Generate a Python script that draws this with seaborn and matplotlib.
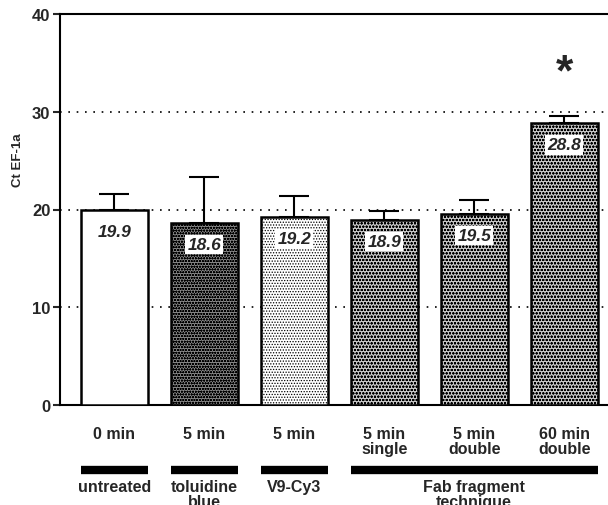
import matplotlib
matplotlib.use("Agg")
import matplotlib.pyplot as plt
import matplotlib.transforms as mtransforms
import seaborn as sns
import pandas as pd

# Data
conditions = ["0 min", "5 min", "5 min", "5 min\nsingle", "5 min\ndouble", "60 min\ndouble"]
ct_values = [19.9, 18.6, 19.2, 18.9, 19.5, 28.8]
ct_errors = [1.7, 4.7, 2.2, 0.9, 1.5, 0.8]
groups = ["untreated", "toluidine\nblue", "V9-Cy3", "Fab fragment\ntechnique"]
group_spans = [(0, 0), (1, 1), (2, 2), (3, 5)]
y_ticks = [0, 10, 20, 30, 40]

sns.set_style("white")
plt.rcParams["font.family"] = ["Liberation Sans", "DejaVu Sans"]
plt.rcParams["hatch.linewidth"] = 0.6

fig = plt.figure(figsize=(6.08, 5.06), dpi=100)
ax = fig.add_axes([60 / 608, 100 / 506, 550 / 608, 391 / 506])

df = pd.DataFrame({"pos": [str(i) for i in range(len(ct_values))], "ct": ct_values})
sns.barplot(data=df, x="pos", y="ct", ax=ax, color="white", width=0.745,
            edgecolor="black", linewidth=1.8, errorbar=None, zorder=3)

fills = ["white", "#8a8a8a", "white", "#c8c8c8", "#c8c8c8", "#c8c8c8"]
hatches = [None, "oooooo", "......", "ooooo", "ooooo", "ooooo"]
for patch, fc, h in zip(ax.patches, fills, hatches):
    patch.set_facecolor(fc)
    if h:
        patch.set_hatch(h)

x = list(range(len(ct_values)))
ax.errorbar(x, ct_values, yerr=[[0] * len(ct_errors), ct_errors], fmt="none",
            ecolor="black", elinewidth=1.5, capsize=11, capthick=1.5, zorder=2)

# value labels inside bars
for xi, v in zip(x, ct_values):
    ax.text(xi, v - 2.2, f"{v:.1f}", ha="center", va="center", fontsize=12.5,
            fontweight="bold", fontstyle="italic", zorder=5,
            bbox=dict(boxstyle="square,pad=0.12", fc="white", ec="none"))

# significance marker
ax.text(5, 34.0, "*", ha="center", va="center", fontsize=32, fontweight="bold")

ax.set_ylim(0, 40)
ax.set_xlim(-0.605, 5.51)
ax.set_yticks(y_ticks)
ax.set_yticklabels([str(t) for t in y_ticks], fontsize=12, fontweight="bold")
ax.set_xticks(x)
ax.set_xticklabels(conditions, fontsize=11.5, fontweight="bold", linespacing=1.0)
ax.tick_params(axis="x", length=0, pad=15)
ax.tick_params(axis="y", length=5, width=1.5, direction="out", left=True, pad=2)
ax.set_xlabel("")
ax.set_ylabel("Ct EF-1a", fontsize=9.5, fontweight="bold")
ax.yaxis.set_label_coords(-(60 - 18) / 550, (406 - 160) / 391)
ax.yaxis.label.set_va("center")

for y in [10, 20, 30]:
    ax.axhline(y, color="black", linestyle=(0, (1, 4)), linewidth=1.2, zorder=1)

for side in ["left", "top", "bottom"]:
    ax.spines[side].set_linewidth(1.5)
    ax.spines[side].set_color("black")
ax.spines["right"].set_visible(False)

# group bars and labels below the axis
trans = mtransforms.blended_transform_factory(ax.transData, ax.transAxes)
for name, (a, b) in zip(groups, group_spans):
    x0, x1 = a - 0.3725, b + 0.3725
    ax.plot([x0, x1], [-0.166, -0.166], transform=trans, color="black",
            linewidth=6, solid_capstyle="butt", clip_on=False)
    ax.text((a + b) / 2, -0.19, name, transform=trans, ha="center", va="top",
            fontsize=11.5, fontweight="bold", linespacing=1.0)

fig.savefig("out.png", dpi=100)
